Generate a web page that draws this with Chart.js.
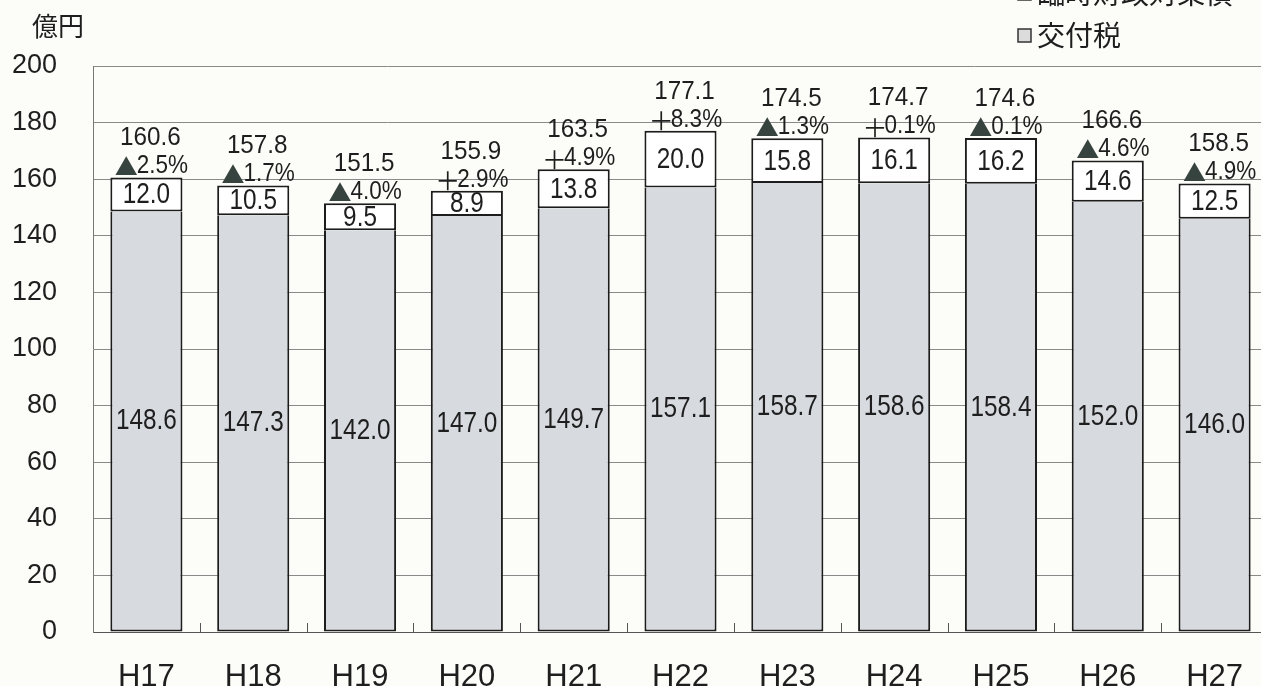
<!DOCTYPE html>
<html lang="ja">
<head>
<meta charset="utf-8">
<title>交付税・臨時財政対策債の推移</title>
<script src="https://cdn.jsdelivr.net/npm/chart.js@4.4.0/dist/chart.umd.min.js"></script>
<style>
    html, body { margin: 0; padding: 0; background: #fcfcf8; overflow: hidden; }
    #wrap { width: 1261px; height: 686px; overflow: hidden; }
</style>
</head>
<body>
<div id="wrap"><canvas id="chart" width="1272" height="686"></canvas></div>
<script>
// Data
const years = ['H17', 'H18', 'H19', 'H20', 'H21', 'H22', 'H23', 'H24', 'H25', 'H26', 'H27'];
const lowerValues = [148.6, 147.3, 142.0, 147.0, 149.7, 157.1, 158.7, 158.6, 158.4, 152.0, 146.0];
const upperValues = [12.0, 10.5, 9.5, 8.9, 13.8, 20.0, 15.8, 16.1, 16.2, 14.6, 12.5];
const totalLabels = ['160.6', '157.8', '151.5', '155.9', '163.5', '177.1', '174.5', '174.7', '174.6', '166.6', '158.5'];
const changeSigns = ['▲', '▲', '▲', '＋', '＋', '＋', '▲', '＋', '▲', '▲', '▲'];
const changeRates = ['2.5%', '1.7%', '4.0%', '2.9%', '4.9%', '8.3%', '1.3%', '0.1%', '0.1%', '4.6%', '4.9%'];
const yTicks = [0, 20, 40, 60, 80, 100, 120, 140, 160, 180, 200];

const numFont = '"Liberation Sans", Arial, "Noto Sans CJK JP", sans-serif';
const jpFont = '"Noto Sans CJK JP", "Noto Sans", sans-serif';
const textColor = '#1e1e1e';

function drawScaled(ctx, text, x, y, size, sx) {
    ctx.save();
    ctx.translate(x, y);
    ctx.scale(sx, 1);
    ctx.font = size + 'px ' + numFont;
    ctx.textAlign = 'center';
    ctx.textBaseline = 'middle';
    ctx.fillText(text, 0, 0);
    ctx.restore();
}

// Labels, legend, unit and inner x ticks
const annotations = {
    id: 'annotations',
    afterDatasetsDraw(chart) {
        const ctx = chart.ctx;
        const lower = chart.getDatasetMeta(0).data;
        const upper = chart.getDatasetMeta(1).data;
        const xs = chart.scales.x;
        const area = chart.chartArea;

        ctx.save();
        ctx.fillStyle = textColor;

        // small ticks between categories
        ctx.strokeStyle = '#555';
        ctx.lineWidth = 1;
        for (let i = 1; i < years.length; i++) {
            const x = Math.round((xs.getPixelForValue(i - 1) + xs.getPixelForValue(i)) / 2) + 0.5;
            ctx.beginPath();
            ctx.moveTo(x, area.bottom);
            ctx.lineTo(x, area.bottom - 9);
            ctx.stroke();
        }

        years.forEach((y, i) => {
            const lb = lower[i];
            const ub = upper[i];
            ctx.fillStyle = textColor;
            drawScaled(ctx, lowerValues[i].toFixed(1), lb.x, (lb.y + lb.base) / 2, 29, 0.84);
            drawScaled(ctx, upperValues[i].toFixed(1), ub.x, (ub.y + ub.base) / 2 + 1, 29, 0.84);
            drawScaled(ctx, totalLabels[i], ub.x + 4, ub.y - 39, 25, 0.97);

            // change rate: sign + value
            const isDown = changeSigns[i] === '▲';
            ctx.font = (isDown ? '23px ' : '25px ') + jpFont;
            const signW = ctx.measureText(changeSigns[i]).width - (isDown ? 1 : 3);
            const signFont = ctx.font;
            ctx.font = '25px ' + numFont;
            const rateW = ctx.measureText(changeRates[i]).width * 0.9;
            const left = ub.x + 5 - (signW + rateW) / 2;
            const cy = ub.y - 11;
            ctx.textAlign = 'left';
            ctx.textBaseline = 'middle';
            ctx.font = signFont;
            ctx.fillStyle = isDown ? '#37433f' : textColor;
            ctx.fillText(changeSigns[i], left, cy + (isDown ? 0 : 1));
            ctx.save();
            ctx.translate(left + signW, cy);
            ctx.scale(0.9, 1);
            ctx.font = '25px ' + numFont;
            ctx.fillStyle = textColor;
            ctx.fillText(changeRates[i], 0, 0);
            ctx.restore();
        });

        // unit
        ctx.fillStyle = textColor;
        ctx.font = '26px ' + jpFont;
        ctx.textAlign = 'left';
        ctx.textBaseline = 'middle';
        ctx.fillText('億円', 32, 26);

        // legend
        const legendRows = [
            { label: '臨時財政対策債', y: -7, fill: '#3a3a3a' },
            { label: '交付税', y: 35, fill: '#dcdcdc' }
        ];
        ctx.font = '28px ' + jpFont;
        legendRows.forEach(r => {
            ctx.fillStyle = r.fill;
            ctx.fillRect(1018, r.y - 6, 13, 13);
            ctx.strokeStyle = '#333';
            ctx.lineWidth = 1.5;
            ctx.strokeRect(1018, r.y - 6, 13, 13);
            ctx.fillStyle = textColor;
            ctx.fillText(r.label, 1037, r.y);
        });
        ctx.restore();
    }
};

const chart = new Chart(document.getElementById('chart').getContext('2d'), {
    type: 'bar',
    data: {
        labels: years,
        datasets: [
            {
                label: '臨時財政対策債',
                data: lowerValues,
                backgroundColor: '#d7dbe0',
                borderColor: '#1c1c1c',
                borderWidth: 2,
                borderSkipped: 'top',
                categoryPercentage: 1,
                barPercentage: 0.675
            },
            {
                label: '交付税',
                data: upperValues,
                backgroundColor: '#ffffff',
                borderColor: '#1c1c1c',
                borderWidth: 2,
                borderSkipped: false,
                categoryPercentage: 1,
                barPercentage: 0.675
            }
        ]
    },
    options: {
        responsive: false,
        animation: false,
        layout: { padding: { top: 66, right: 4, left: 0, bottom: 0 } },
        plugins: {
            legend: { display: false },
            tooltip: { enabled: false }
        },
        scales: {
            x: {
                stacked: true,
                grid: { display: false },
                border: { display: true, color: '#555', width: 1 },
                ticks: {
                    color: textColor,
                    font: { family: numFont, size: 31 },
                    padding: 19,
                    maxRotation: 0
                },
                afterFit: s => { s.height = 54; }
            },
            y: {
                stacked: true,
                min: 0,
                max: 200,
                afterBuildTicks: s => { s.ticks = yTicks.map(v => ({ value: v })); },
                grid: { color: '#8a8a8a', lineWidth: 1, drawTicks: false },
                border: { display: true, color: '#777', width: 1 },
                ticks: {
                    color: textColor,
                    font: { family: numFont, size: 27 },
                    padding: 36
                },
                afterFit: s => { s.width = 93; }
            }
        }
    },
    plugins: [annotations]
});
</script>
</body>
</html>
